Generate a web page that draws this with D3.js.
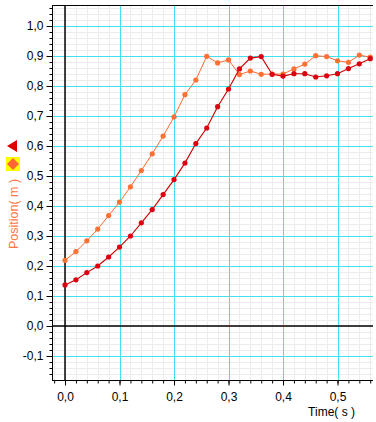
<!DOCTYPE html>
<html><head><meta charset="utf-8">
<script src="https://cdn.jsdelivr.net/npm/d3@7"></script>
<style>body{margin:0;background:#fff}svg{display:block}text{font-family:"Liberation Sans",Arial,sans-serif}</style>
</head><body>
<script>
const times = [0,0.02,0.04,0.06,0.08,0.10,0.12,0.14,0.16,0.18,0.20,0.22,0.24,0.26,0.28,0.30,0.32,0.34,0.36,0.38,0.40,0.42,0.44,0.46,0.48,0.50,0.52,0.54,0.56];
const orangeSeries = [0.219,0.248,0.284,0.323,0.368,0.413,0.464,0.518,0.574,0.633,0.697,0.771,0.820,0.899,0.877,0.887,0.838,0.850,0.839,0.840,0.840,0.857,0.873,0.901,0.898,0.884,0.879,0.903,0.896];
const redSeries = [0.137,0.154,0.178,0.200,0.230,0.263,0.300,0.344,0.388,0.438,0.488,0.543,0.608,0.660,0.731,0.790,0.857,0.893,0.898,0.839,0.833,0.841,0.841,0.830,0.834,0.841,0.858,0.874,0.891];
const yTicks = [-0.1,0,0.1,0.2,0.3,0.4,0.5,0.6,0.7,0.8,0.9,1.0];
const xTicks = [0,0.1,0.2,0.3,0.4,0.5];
const xLabel = "Time( s )";
const yLabel = "Position( m )";

const W=376,H=422;
const L=52,R=373,T=5,B=380;
const svg=d3.select("body").append("svg").attr("width",W).attr("height",H);
const x=d3.scaleLinear().domain([-0.0239,0.5651]).range([L,R]);
const y=d3.scaleLinear().domain([-0.18,1.07]).range([B,T]);
const fmt=d=>d3.format(".1f")(d).replace(".",",").replace("−","-");

const g=svg.append("g");
const xMinor=d3.range(-0.02,0.5651,0.02).map(v=>+v.toFixed(2));
const yMinor=d3.range(-0.16,1.07,0.02).map(v=>+v.toFixed(2));
g.selectAll(".xm").data(xMinor).enter().append("line")
 .attr("x1",d=>Math.round(x(d))+0.5).attr("x2",d=>Math.round(x(d))+0.5).attr("y1",T).attr("y2",B)
 .attr("stroke","#ececec").attr("stroke-width",1);
g.selectAll(".ym").data(yMinor).enter().append("line")
 .attr("y1",d=>Math.round(y(d))+0.5).attr("y2",d=>Math.round(y(d))+0.5).attr("x1",L).attr("x2",R)
 .attr("stroke","#ececec").attr("stroke-width",1);
g.selectAll(".xM").data(xTicks.filter(d=>d!==0)).enter().append("line")
 .attr("x1",d=>Math.round(x(d))+0.5).attr("x2",d=>Math.round(x(d))+0.5).attr("y1",T).attr("y2",B)
 .attr("stroke","#44e0ee").attr("stroke-width",1);
g.selectAll(".yM").data(yTicks.filter(d=>d!==0)).enter().append("line")
 .attr("y1",d=>Math.round(y(d))+0.5).attr("y2",d=>Math.round(y(d))+0.5).attr("x1",L).attr("x2",R)
 .attr("stroke","#44e0ee").attr("stroke-width",1);
g.append("line").attr("x1",x(0)).attr("x2",x(0)).attr("y1",T).attr("y2",B).attr("stroke","#000").attr("stroke-width",1.5);
g.append("line").attr("y1",y(0)).attr("y2",y(0)).attr("x1",L).attr("x2",R).attr("stroke","#000").attr("stroke-width",1.5);

const yAxisMinor=d3.axisLeft(y).tickValues(yMinor).tickSize(3).tickFormat("");
const yAxisMajor=d3.axisLeft(y).tickValues(yTicks).tickSize(6).tickPadding(3).tickFormat(fmt);
const xAxisMinor=d3.axisBottom(x).tickValues(xMinor).tickSize(3).tickFormat("");
const xAxisMajor=d3.axisBottom(x).tickValues(xTicks).tickSize(5).tickPadding(7).tickFormat(fmt);
function styleAxis(sel){sel.select(".domain").remove();sel.selectAll("line").attr("stroke","#000");sel.selectAll("text").attr("fill","#000").style("font-size","12px").style("font-family","'Liberation Sans',Arial,sans-serif");}
svg.append("g").attr("transform",`translate(${L+0.5},0)`).call(yAxisMinor).call(styleAxis);
svg.append("g").attr("transform",`translate(${L+0.5},0)`).call(yAxisMajor).call(styleAxis);
svg.append("g").attr("transform",`translate(0,${B+0.5})`).call(xAxisMinor).call(styleAxis);
svg.append("g").attr("transform",`translate(0,${B+0.5})`).call(xAxisMajor).call(styleAxis);
svg.append("line").attr("x1",L+0.5).attr("x2",L+0.5).attr("y1",T).attr("y2",B+0.5).attr("stroke","#000");
svg.append("line").attr("x1",L).attr("x2",R).attr("y1",B+0.5).attr("y2",B+0.5).attr("stroke","#000");
svg.append("line").attr("x1",L).attr("x2",R).attr("y1",T+0.5).attr("y2",T+0.5).attr("stroke","#000");

svg.append("defs").append("clipPath").attr("id","c").append("rect").attr("x",L).attr("y",T).attr("width",R-L+3).attr("height",B-T);
function drawSeries(vals,lineCol,dotCol,lw,r){
  const data=times.map((t,i)=>[t,vals[i]]);
  const gg=svg.append("g").attr("clip-path","url(#c)");
  gg.append("path").datum(data).attr("d",d3.line().x(d=>x(d[0])).y(d=>y(d[1])))
    .attr("fill","none").attr("stroke",lineCol).attr("stroke-width",lw);
  gg.selectAll("circle").data(data).enter().append("circle")
    .attr("cx",d=>x(d[0])).attr("cy",d=>y(d[1])).attr("r",r).attr("fill",dotCol);
}
drawSeries(orangeSeries,"#ff6a33","#ff7033",1,2.6);
drawSeries(redSeries,"#cc0000","#dd0011",1.1,2.6);

svg.append("text").attr("x",355).attr("y",416).attr("text-anchor","end").style("font-size","12px").attr("fill","#000").text(xLabel);
svg.append("text").attr("transform","translate(18,214) rotate(-90)").attr("text-anchor","middle").style("font-size","12.5px").attr("fill","#ff7744").text(yLabel);
svg.append("path").attr("d","M7,146 L17,140 L17,152 Z").attr("fill","#dd0000");
svg.append("rect").attr("x",6).attr("y",157).attr("width",14).attr("height",14).attr("fill","#ffff00");
svg.append("path").attr("d","M13,158 L19,164 L13,170 L7,164 Z").attr("fill","#ff6633");
</script>
</body></html>
